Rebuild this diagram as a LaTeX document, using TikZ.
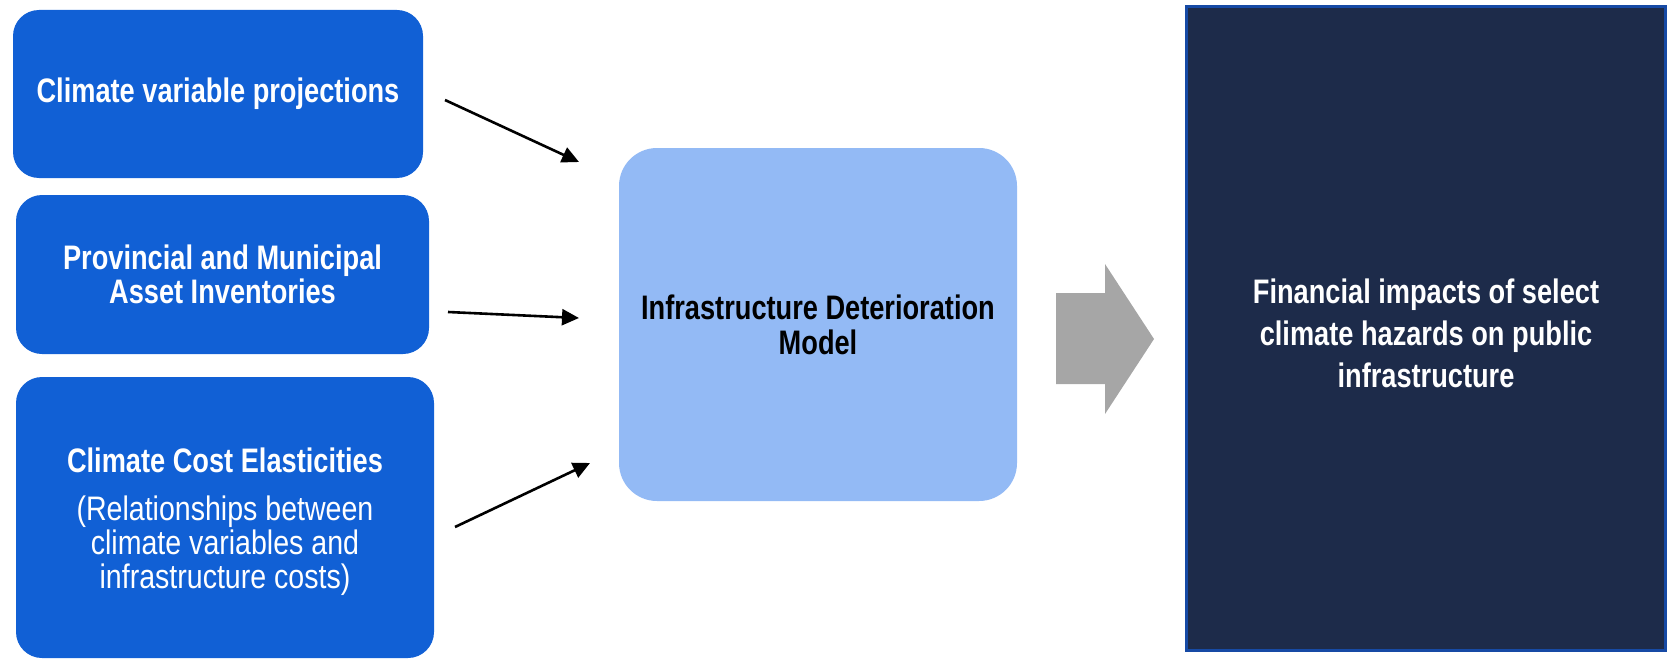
\documentclass[tikz,border=0pt]{standalone}
\usepackage{fontspec}
\setmainfont{Liberation Sans}
\newfontfamily\narrowfont[FakeStretch=0.80]{Liberation Sans}
\newfontfamily\narrowreg[FakeStretch=0.84]{Liberation Sans}
\usetikzlibrary{arrows.meta}
\definecolor{boxblue}{RGB}{17,96,213}
\definecolor{midblue}{RGB}{147,186,245}
\definecolor{arrowgray}{RGB}{166,166,166}
\definecolor{navy}{RGB}{29,43,74}
\definecolor{navyborder}{RGB}{22,74,165}
\tikzset{
  x=1pt, y=-1pt,
  inbox/.style={rectangle, rounded corners=26pt, fill=boxblue, inner sep=0pt,
    text=white, align=center, font=\narrowfont\fontsize{34}{34}\selectfont\bfseries},
  midbox/.style={rectangle, rounded corners=38pt, fill=midblue, inner sep=0pt,
    text=black, align=center, font=\narrowfont\fontsize{34}{35}\selectfont\bfseries},
  outbox/.style={rectangle, fill=navy, draw=navyborder, line width=3pt, inner sep=0pt},
  outtext/.style={text=white, align=center, inner sep=0pt,
    font=\narrowfont\fontsize{34}{42}\selectfont\bfseries},
  conn/.style={line width=2.6pt, -{Triangle[length=17pt,width=16pt]}},
}
\begin{document}
\begin{tikzpicture}
\useasboundingbox (0,0) rectangle (1669,658);
\node[inbox, minimum width=410pt, minimum height=168pt] (b1) at (218,94)
  {Climate variable projections};
\node[inbox, minimum width=413pt, minimum height=159pt] (b2) at (222.5,274.5)
  {Provincial and Municipal\\Asset Inventories};
\node[inbox, minimum width=418pt, minimum height=281pt] (b3) at (225,517.5) {};
\node[inbox, fill=none] (b3t) at (225,522)
  {Climate Cost Elasticities\\[14pt]{\narrowreg\mdseries (Relationships between}\\{\narrowreg\mdseries climate variables and}\\{\narrowreg\mdseries infrastructure costs)}};
\node[midbox, minimum width=398pt, minimum height=353pt] (mid) at (818,324.5)
  {Infrastructure Deterioration\\Model};
\node[outbox, minimum width=479pt, minimum height=644pt] (out) at (1426,328.5) {};
\node[outtext] (outt) at (1426,333)
  {Financial impacts of select\\climate hazards on public\\infrastructure};
% connectors
\coordinate (a1s) at (445,100);
\coordinate (a1e) at (579,162);
\coordinate (a2s) at (448,312);
\coordinate (a2e) at (579,318);
\coordinate (a3s) at (455,527);
\coordinate (a3e) at (590,463);
\draw[conn] (a1s) -- (a1e);
\draw[conn] (a2s) -- (a2e);
\draw[conn] (a3s) -- (a3e);
% big gray arrow
\fill[arrowgray] (1056,293) -- (1105,293) -- (1105,264) -- (1154,339)
  -- (1105,414) -- (1105,384) -- (1056,384) -- cycle;
\end{tikzpicture}
\end{document}
